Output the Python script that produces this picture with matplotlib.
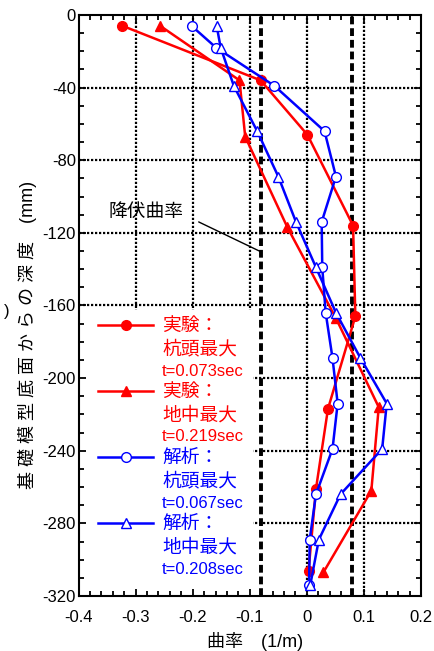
import matplotlib
matplotlib.use("Agg")
import matplotlib.pyplot as plt
from matplotlib.lines import Line2D
from matplotlib.patches import Rectangle

plt.rcParams["font.family"] = ["Liberation Sans", "Noto Sans CJK JP"]
plt.rcParams["axes.unicode_minus"] = False

# 実験 杭頭最大 (red circles)
exp_head_x = [-0.323, -0.081, 0.001, 0.081, 0.085, 0.037, 0.016, 0.003]
exp_head_y = [-6, -36, -66, -116, -166, -217, -261, -306]
# 実験 地中最大 (red triangles)
exp_ground_x = [-0.257, -0.118, -0.108, -0.034, 0.051, 0.126, 0.113, 0.029]
exp_ground_y = [-6, -36, -67, -117, -167, -216, -262, -307]
# 解析 (analysis depths)
ana_y = [-6, -18, -39, -64, -89, -114, -139, -164, -189, -214, -239, -264, -289, -314]
ana_head_x = [-0.202, -0.159, -0.057, 0.031, 0.051, 0.026, 0.027, 0.033,
              0.045, 0.054, 0.045, 0.016, 0.005, 0.004]
ana_ground_x = [-0.158, -0.151, -0.128, -0.087, -0.050, -0.019, 0.016, 0.051,
                0.094, 0.140, 0.132, 0.059, 0.021, 0.006]

yield_curv = [-0.08, 0.08]

xticks = [-0.4, -0.3, -0.2, -0.1, 0, 0.1, 0.2]
xticklabels = ["-0.4", "-0.3", "-0.2", "-0.1", "0", "0.1", "0.2"]
yticks = [0, -40, -80, -120, -160, -200, -240, -280, -320]
yticklabels = ["0", "-40", "-80", "-120", "-160", "-200", "-240", "-280", "-320"]

labels = [
    ["実験：", "杭頭最大", "t=0.073sec"],
    ["実験：", "地中最大", "t=0.219sec"],
    ["解析：", "杭頭最大", "t=0.067sec"],
    ["解析：", "地中最大", "t=0.208sec"],
]

RED = "#ff0000"
BLUE = "#0000ff"

fig = plt.figure(figsize=(4.34, 6.51), dpi=100)
ax = fig.add_axes([0.181, 0.0845, 0.789, 0.8925])

# grid drawn by hand so that the legend box can cover it
for x in xticks[1:-1]:
    ax.axvline(x, color="black", lw=1.6, ls=(0, (1, 0.8)), zorder=0.5)
for y in yticks[1:-1]:
    ax.axhline(y, color="black", lw=1.6, ls=(0, (1, 0.8)), zorder=0.5)

ax.add_patch(Rectangle((0, 0), 0.51, 0.492, transform=ax.transAxes,
                       facecolor="white", edgecolor="none", zorder=1))

for xv in yield_curv:
    ax.axvline(xv, color="black", lw=2.8, ls=(0, (2, 1)), zorder=1.5)

kw = dict(lw=1.8, ms=7, zorder=3)
ax.plot(exp_head_x, exp_head_y, color=RED, marker="o", **kw)
ax.plot(exp_ground_x, exp_ground_y, color=RED, marker="^", **kw)
ax.plot(ana_head_x, ana_y, color=BLUE, marker="o", mfc="white", **kw)
ax.plot(ana_ground_x, ana_y, color=BLUE, marker="^", mfc="white", **kw)

ax.annotate("降伏曲率", xy=(-0.08, -130.5), xytext=(-0.282, -109),
            fontsize=13.5, ha="center", va="center",
            arrowprops=dict(arrowstyle="-", color="black", lw=1,
                            relpos=(1, 0.4), shrinkA=10, shrinkB=0))

ax.set_xlim(-0.4, 0.2)
ax.set_ylim(-320, 0)
ax.set_xticks(xticks)
ax.set_xticklabels(xticklabels, fontsize=12)
ax.set_yticks(yticks)
ax.set_yticklabels(yticklabels, fontsize=12)
ax.set_xticks([-0.4 + 0.02 * i for i in range(31)], minor=True)
ax.set_yticks(list(range(-320, 1, 10)), minor=True)
ax.tick_params(which="both", direction="in", top=True, right=True, width=1.3)
ax.tick_params(which="major", length=5)
ax.tick_params(which="minor", length=3.5)
ax.tick_params(axis="x", which="major", pad=10)
ax.tick_params(axis="y", which="major", pad=2)
for s in ax.spines.values():
    s.set_linewidth(1.5)

# legend: one handle per series, extra lines as blank rows
markers = [("o", RED, RED), ("^", RED, RED), ("o", BLUE, "white"), ("^", BLUE, "white")]
handles, texts, colors = [], [], []
for (m, c, fc), lab in zip(markers, labels):
    handles.append(Line2D([], [], color=c, marker=m, mfc=fc, lw=1.8, ms=7))
    handles.append(Line2D([], [], color="none"))
    handles.append(Line2D([], [], color="none"))
    texts += lab
    colors += [c] * 3
leg = ax.legend(handles, texts, loc="upper left", bbox_to_anchor=(0.057, 0.478),
                frameon=False, fontsize=12, handlelength=3.3, handletextpad=0.55,
                labelspacing=0.32, borderpad=0, borderaxespad=0)
for t, c in zip(leg.get_texts(), colors):
    t.set_color(c)
    if not t.get_text().startswith("t="):
        t.set_fontsize(13.5)

fig.text(0.5 * (208 + 303) / 434, 1 - 641.7 / 651, "曲率　(1/m)", fontsize=13,
         ha="center", va="center")
fig.text(27.5 / 434, 1 - 335 / 651, " ".join("基礎模型底面からの深度") + "　(mm)",
         fontsize=13, rotation=90, ha="center", va="center")
fig.text(7 / 434, 1 - 312 / 651, ")", fontsize=12, ha="center", va="center")

fig.savefig("out.png", dpi=100)
